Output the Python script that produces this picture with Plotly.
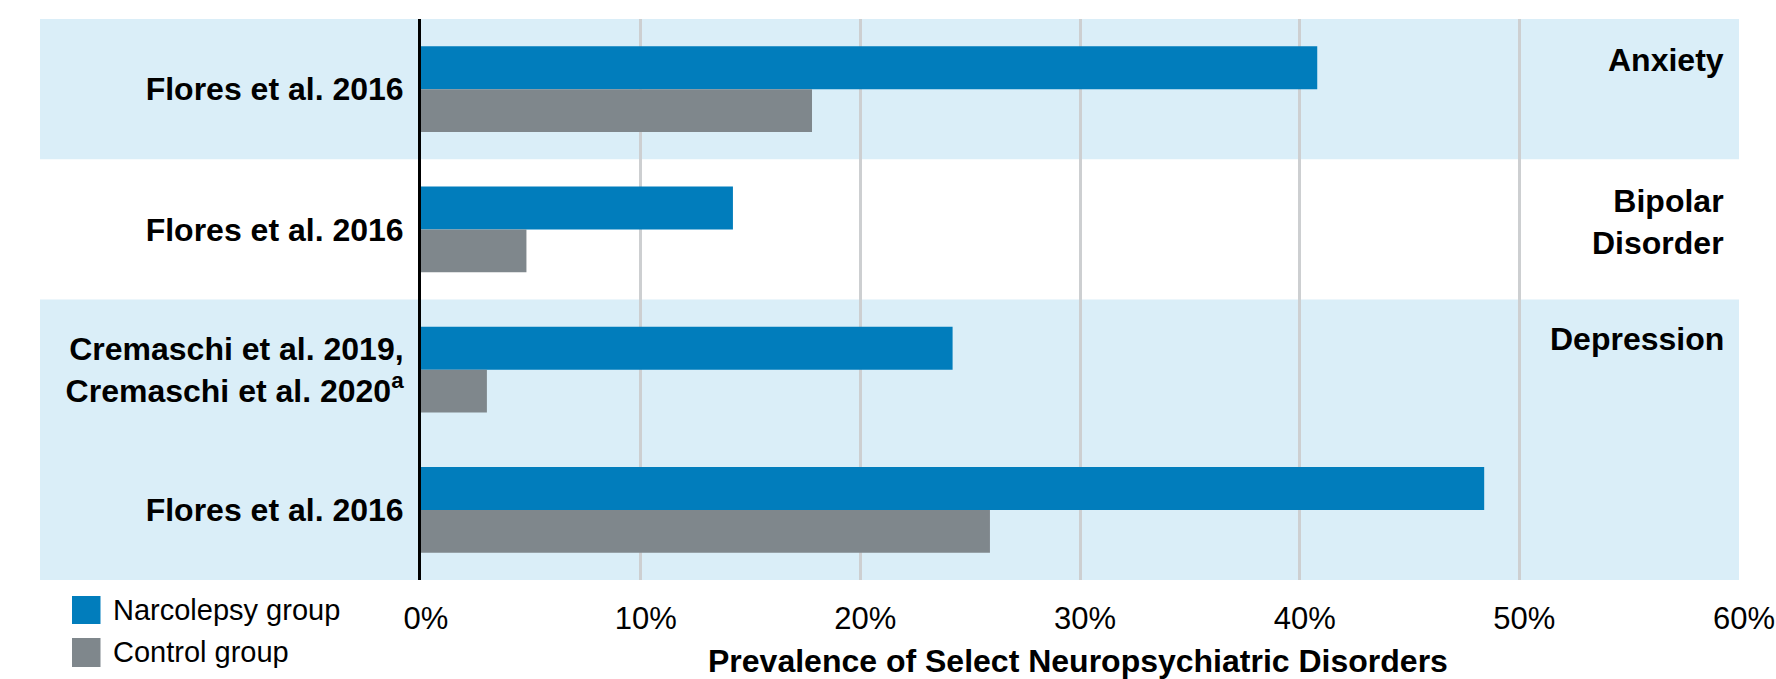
import plotly.graph_objects as go

# Studies (top to bottom) and prevalence (%) in each group
studies = [
    "Flores et al. 2016",
    "Flores et al. 2016",
    "Cremaschi et al. 2019,<br>Cremaschi et al. 2020<sup>a</sup>",
    "Flores et al. 2016",
]
narcolepsy = [40.8, 14.2, 24.2, 48.4]
control = [17.8, 4.8, 3.0, 25.9]

group_names = ["Narcolepsy group", "Control group"]
disorders = ["Anxiety", "Bipolar<br>Disorder", "Depression"]
x_ticks = [0, 10, 20, 30, 40, 50, 60]
x_tick_text = ["0%", "10%", "20%", "30%", "40%", "50%", "60%"]
x_title = "Prevalence of Select Neuropsychiatric Disorders"

BLUE = "#017DBC"
GRAY = "#7F878C"
BAND = "#DAEEF8"
FONT = "Liberation Sans, Arial, sans-serif"

W, H = 1776, 679
L, R, T, B = 421, 37, 19, 99
plot_w = W - L - R
plot_h = H - T - B


def px_x(px):
    return (px - L) / plot_w


def px_y(py):
    return (H - B - py) / plot_h


rows = list(range(len(studies)))

fig = go.Figure()
fig.add_trace(go.Bar(
    y=rows, x=narcolepsy, orientation="h", name=group_names[0],
    marker=dict(color=BLUE, line=dict(width=0)), showlegend=False,
))
fig.add_trace(go.Bar(
    y=rows, x=control, orientation="h", name=group_names[1],
    marker=dict(color=GRAY, line=dict(width=0)), showlegend=False,
))

shapes = []
# light-blue bands behind the Anxiety and Depression rows
for y0, y1 in [(-0.5, 0.5), (1.5, 3.5)]:
    shapes.append(dict(
        type="rect", xref="paper", yref="y", x0=px_x(40), x1=1.0,
        y0=y0, y1=y1, fillcolor=BAND, line=dict(width=0), layer="below",
    ))

# legend swatches
for (top, bot), color in zip([(596, 624), (638, 667)], [BLUE, GRAY]):
    shapes.append(dict(
        type="rect", xref="paper", yref="paper",
        x0=px_x(72), x1=px_x(100.5), y0=px_y(bot), y1=px_y(top),
        fillcolor=color, line=dict(width=0),
    ))

annotations = []
for name, cy in zip(group_names, [610, 652]):
    annotations.append(dict(
        text=name, xref="paper", yref="paper", x=px_x(111), y=px_y(cy),
        xanchor="left", yanchor="middle", showarrow=False,
        font=dict(family=FONT, size=29, color="#000000"),
    ))

# disorder names at the right of each band
for text, ymid in zip(disorders, [-0.21, 0.95, 1.78]):
    annotations.append(dict(
        text=f"<b>{text}</b>", xref="paper", yref="y", x=px_x(1726), y=ymid,
        xanchor="right", yanchor="middle", align="right", showarrow=False,
        font=dict(family=FONT, size=32, color="#000000"),
    ))

annotations.append(dict(
    text=f"<b>{x_title}</b>", xref="paper", yref="paper", x=0.4985, y=px_y(661),
    xanchor="center", yanchor="middle", showarrow=False,
    font=dict(family=FONT, size=32, color="#000000"),
))

fig.update_layout(
    width=W, height=H,
    margin=dict(l=L, r=R, t=T, b=B, pad=0, autoexpand=False),
    paper_bgcolor="#FFFFFF",
    plot_bgcolor="rgba(0,0,0,0)",
    barmode="group",
    bargap=0.387,
    bargroupgap=0,
    shapes=shapes,
    annotations=annotations,
    font=dict(family=FONT, color="#000000"),
    xaxis=dict(
        range=[0, 60], tickvals=x_ticks, ticktext=x_tick_text,
        showgrid=True, gridcolor="#CDCFD1", gridwidth=3,
        zeroline=False, showline=False, automargin=False,
        ticks="", ticklabelstandoff=17, ticklabelshift=5,
        tickfont=dict(family=FONT, size=31, color="#000000"),
        fixedrange=True,
    ),
    yaxis=dict(
        range=[3.5, -0.5], tickvals=rows,
        ticktext=[f"<b>{s}</b>" for s in studies],
        showgrid=False, zeroline=False, automargin=False,
        showline=True, linecolor="#000000", linewidth=3,
        ticks="", ticklabelstandoff=8,
        tickfont=dict(family=FONT, size=32, color="#000000"),
        fixedrange=True,
    ),
)

fig.write_html("out.html")
